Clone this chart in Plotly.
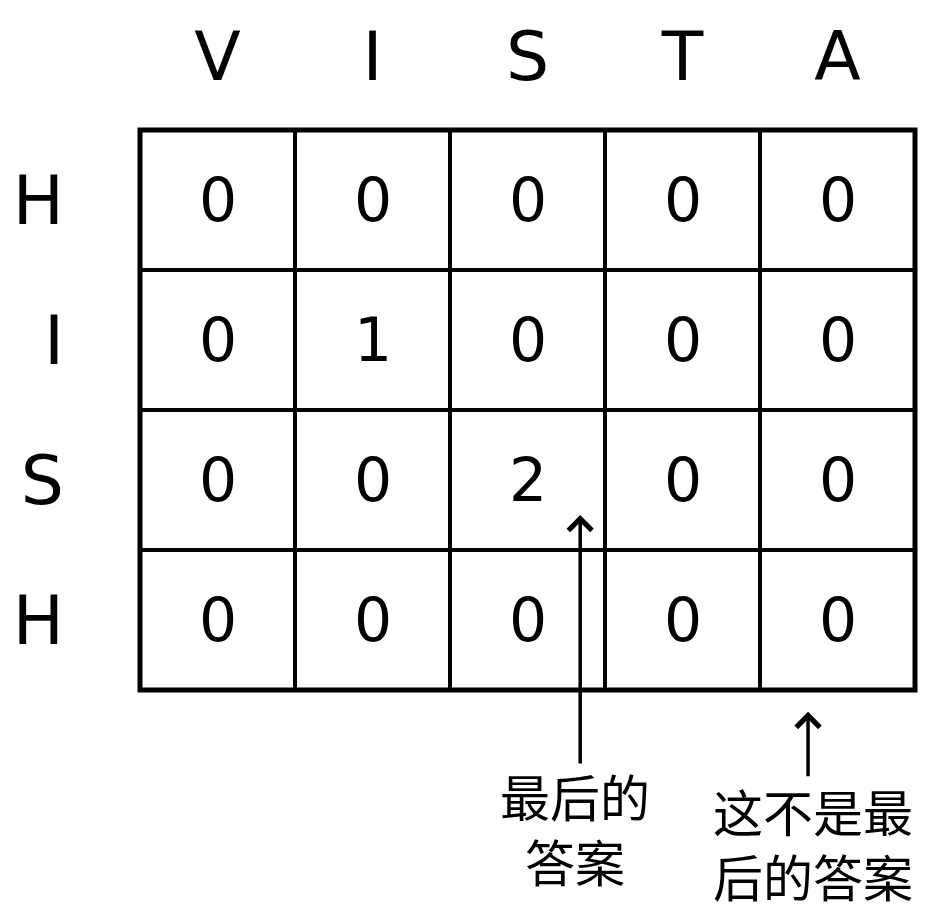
import plotly.graph_objects as go

col_labels = ["V", "I", "S", "T", "A"]
row_labels = ["H", "I", "S", "H"]
values = [
    [0, 0, 0, 0, 0],
    [0, 1, 0, 0, 0],
    [0, 0, 2, 0, 0],
    [0, 0, 0, 0, 0],
]
note_final = "最后的<br>答案"
note_not_final = "这不是最<br>后的答案"

ncol = len(col_labels)
nrow = len(row_labels)

fig = go.Figure()
fig.add_trace(go.Heatmap(
    z=values,
    x=list(range(ncol)),
    y=list(range(nrow)),
    colorscale=[[0, "white"], [1, "white"]],
    showscale=False,
    texttemplate="%{z}",
    textfont=dict(size=60, color="black", family="DejaVu Sans"),
    hoverinfo="skip",
))

line = dict(color="black", width=4)
for i in range(1, ncol):
    fig.add_shape(type="line", x0=i - 0.5, x1=i - 0.5, y0=-0.5, y1=nrow - 0.5,
                  xref="x", yref="y", line=line, layer="above")
for j in range(1, nrow):
    fig.add_shape(type="line", x0=-0.5, x1=ncol - 0.5, y0=j - 0.5, y1=j - 0.5,
                  xref="x", yref="y", line=line, layer="above")
# outer border (not clipped)
fig.add_shape(type="rect", x0=0, x1=1, y0=0, y1=1, xref="paper", yref="paper",
              line=dict(color="black", width=5), layer="above")

# arrow to the "2" cell
fig.add_annotation(x=0.568, y=0.3125, xref="paper", yref="paper", text="", showarrow=True,
                   ax=0, ay=250, arrowhead=4, arrowsize=1.3, arrowwidth=3.5,
                   arrowcolor="black")
fig.add_annotation(x=0.561, y=-0.246, xref="paper", yref="paper", text=note_final,
                   showarrow=False, yanchor="middle", xanchor="center",
                   font=dict(size=50, color="black", family="Noto Sans CJK SC"))
# arrow below last column
fig.add_annotation(x=0.862, y=-0.039, xref="paper", yref="paper", text="", showarrow=True,
                   ax=0, ay=66, arrowhead=4, arrowsize=1.3, arrowwidth=3.5,
                   arrowcolor="black")
fig.add_annotation(x=0.868, y=-0.272, xref="paper", yref="paper", text=note_not_final,
                   showarrow=False, yanchor="middle", xanchor="center",
                   font=dict(size=50, color="black", family="Noto Sans CJK SC"))

fig.update_xaxes(
    side="top", tickvals=list(range(ncol)), ticktext=col_labels,
    range=[-0.5, ncol - 0.5], showgrid=False, zeroline=False, showline=False,
    tickfont=dict(size=68, color="black", family="DejaVu Sans"),
    ticks="", ticklabelstandoff=35, automargin=False,
)
fig.update_yaxes(
    tickvals=list(range(nrow)), ticktext=row_labels,
    range=[nrow - 0.5, -0.5], showgrid=False, zeroline=False, showline=False,
    tickfont=dict(size=68, color="black", family="DejaVu Sans"),
    ticks="", ticklabelstandoff=75, automargin=False,
)
fig.update_layout(
    width=925, height=909,
    margin=dict(l=132, r=18, t=122, b=227),
    plot_bgcolor="white", paper_bgcolor="white",
    showlegend=False,
)
fig.write_html("out.html")
